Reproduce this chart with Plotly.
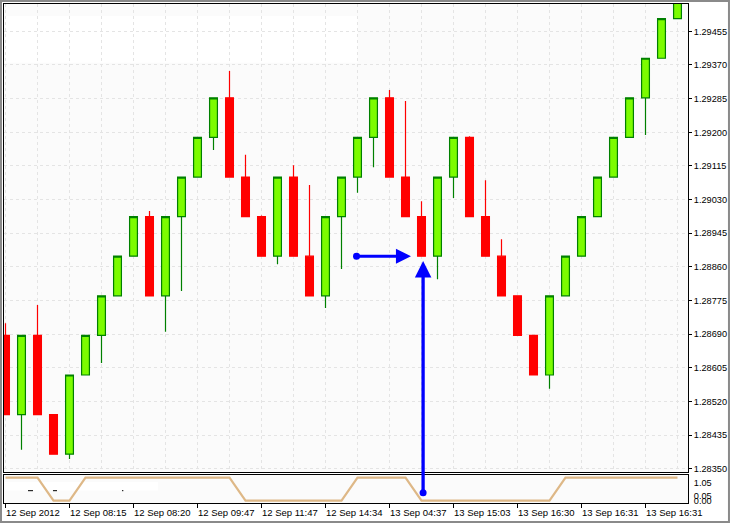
import plotly.graph_objects as go

# ---------------- data ----------------
candle_idx = list(range(43))
opens = [1.28687, 1.28487, 1.28687, 1.28487, 1.28387, 1.28587, 1.28687, 1.28787, 1.28887, 1.28987,
         1.28787, 1.28987, 1.29087, 1.29187, 1.29287, 1.29087, 1.28987, 1.28887, 1.29087, 1.28887,
         1.28787, 1.28987, 1.29087, 1.29187, 1.29287, 1.29087, 1.28987, 1.28887, 1.29087, 1.29187,
         1.28987, 1.28887, 1.28787, 1.28687, 1.28587, 1.28787, 1.28887, 1.28987, 1.29087, 1.29187,
         1.29287, 1.29387, 1.29487]
closes = [1.28487, 1.28687, 1.28487, 1.28387, 1.28587, 1.28687, 1.28787, 1.28887, 1.28987, 1.28787,
          1.28987, 1.29087, 1.29187, 1.29287, 1.29087, 1.28987, 1.28887, 1.29087, 1.28887, 1.28787,
          1.28987, 1.29087, 1.29187, 1.29287, 1.29087, 1.28987, 1.28887, 1.29087, 1.29187, 1.28987,
          1.28887, 1.28787, 1.28687, 1.28587, 1.28787, 1.28887, 1.28987, 1.29087, 1.29187, 1.29287,
          1.29387, 1.29487, 1.29587]
highs = [1.28718, 1.28687, 1.28764, 1.28487, 1.28587, 1.28687, 1.28787, 1.28887, 1.28987, 1.29001,
         1.28987, 1.29087, 1.29187, 1.29287, 1.29355, 1.29143, 1.28990, 1.29087, 1.29117, 1.29067,
         1.28987, 1.29087, 1.29187, 1.29287, 1.29307, 1.29279, 1.29026, 1.29087, 1.29187, 1.29190,
         1.29079, 1.28930, 1.28787, 1.28687, 1.28787, 1.28887, 1.28987, 1.29087, 1.29187, 1.29287,
         1.29387, 1.29487, 1.29587]
lows = [1.28487, 1.28398, 1.28487, 1.28387, 1.28375, 1.28587, 1.28617, 1.28787, 1.28887, 1.28787,
        1.28696, 1.28799, 1.29087, 1.29155, 1.29087, 1.28987, 1.28887, 1.28867, 1.28887, 1.28787,
        1.28756, 1.28855, 1.29047, 1.29112, 1.29087, 1.28987, 1.28887, 1.28829, 1.29034, 1.28987,
        1.28887, 1.28787, 1.28687, 1.28587, 1.28552, 1.28787, 1.28887, 1.28987, 1.29087, 1.29187,
        1.29193, 1.29387, 1.29487]
trend = [1, 1, 1, 0, 0, 1, 1, 1, 1, 1, 1, 1, 1, 1, 1, 0, 0, 0, 0, 0, 0, 0, 1, 1, 1, 1, 0, 0, 0, 0,
         0, 0, 0, 0, 0, 1, 1, 1, 1, 1, 1, 1, 1]

time_tick_idx = [0, 4, 8, 12, 16, 20, 24, 28, 32, 36, 40]
time_labels = ["12 Sep 2012", "12 Sep 08:15", "12 Sep 08:20", "12 Sep 09:47", "12 Sep 11:47",
               "12 Sep 14:34", "13 Sep 04:37", "13 Sep 15:03", "13 Sep 16:30", "13 Sep 16:31",
               "13 Sep 16:31"]
price_ticks = [1.28350, 1.28435, 1.28520, 1.28605, 1.28690, 1.28775, 1.28860, 1.28945,
               1.29030, 1.29115, 1.29200, 1.29285, 1.29370, 1.29455]
ind_tick_vals = [0.78, 0.2, 0.0]
ind_tick_text = ["1.05", "0.05", "0.00"]

# arrows (data coordinates)
h_arrow_tail = (21.94, 1.28887)
h_arrow_head = (25.34, 1.28887)
v_arrow_head = (26.1, 1.28875)
v_arrow_tail_price = 1.28290
v_arrow_tail_ind = 0.35

# ---------------- figure ----------------
FONT = "Liberation Sans"
FS = 9.5
FSY = 9.2
GRID = "#E4E4E4"
BLUE = "#0000FF"

fig = go.Figure()

fig.add_trace(go.Candlestick(
    x=candle_idx, open=opens, high=highs, low=lows, close=closes,
    increasing=dict(line=dict(color="#008000", width=1.2), fillcolor="#7CFC00"),
    decreasing=dict(line=dict(color="#FF0000", width=1.2), fillcolor="#FF0000"),
    whiskerwidth=0, showlegend=False, xaxis="x", yaxis="y", hoverinfo="skip"))

fig.add_trace(go.Scatter(
    x=candle_idx, y=trend, mode="lines",
    line=dict(color="#DEB887", width=2.2), xaxis="x2", yaxis="y2",
    showlegend=False, hoverinfo="skip"))

# arrow tail dots
fig.add_trace(go.Scatter(x=[h_arrow_tail[0]], y=[h_arrow_tail[1]], mode="markers",
                         marker=dict(color=BLUE, size=7), xaxis="x", yaxis="y",
                         showlegend=False, hoverinfo="skip"))
fig.add_trace(go.Scatter(x=[v_arrow_head[0]], y=[v_arrow_tail_ind], mode="markers",
                         marker=dict(color=BLUE, size=7), xaxis="x2", yaxis="y2",
                         showlegend=False, hoverinfo="skip"))

xr = [-0.094, 42.656]

fig.update_layout(
    width=730, height=523,
    margin=dict(l=4, r=42, t=4, b=20, autoexpand=False),
    paper_bgcolor="white", plot_bgcolor="#FBFBFB",
    font=dict(family=FONT, size=FS, color="black"),
    boxgap=0.3,
    xaxis=dict(domain=[0, 1], anchor="y", range=xr, autorange=False, tickmode="linear",
               tick0=0, dtick=2,
               showticklabels=False, ticks="", showgrid=True, gridcolor=GRID, griddash="3px,3px",
               zeroline=False, showline=True, linecolor="black", linewidth=1, mirror=True,
               rangeslider=dict(visible=False)),
    yaxis=dict(domain=[0.06212, 1.0], anchor="x", side="right", range=[1.28342, 1.29524],
               autorange=False,
               tickmode="array", tickvals=price_ticks, ticktext=[f"{v:.5f}" for v in price_ticks],
               ticks="outside", ticklen=3, tickcolor="black", showgrid=True, gridcolor=GRID,
               griddash="3px,3px", zeroline=False, showline=True, linecolor="black",
               linewidth=1, mirror=True, tickfont=dict(family=FONT, size=FSY, color="black")),
    xaxis2=dict(domain=[0, 1], anchor="y2", range=xr, autorange=False, tickmode="array",
                tickvals=time_tick_idx, showticklabels=False,
                ticks="outside", ticklen=4, tickcolor="black",
                showgrid=False, zeroline=False,
                showline=True, linecolor="black", linewidth=1, mirror=True,
                rangeslider=dict(visible=False)),
    yaxis2=dict(domain=[0, 0.05611], anchor="x2", side="right", range=[-0.1, 1.117],
                autorange=False,
                tickmode="array", tickvals=ind_tick_vals, ticktext=ind_tick_text,
                ticks="outside", ticklen=3, tickcolor="rgba(0,0,0,0)",
                showgrid=False, zeroline=False, showline=True, linecolor="black",
                linewidth=1, mirror=True,
                tickfont=dict(family=FONT, size=FSY, color="black")),
)

# x-axis labels, left-aligned on their tick like the original terminal
for xi, lab in zip(time_tick_idx, time_labels):
    fig.add_annotation(x=xi, y=0, xref="x2", yref="paper", text=lab, showarrow=False,
                       xanchor="left", yanchor="top", xshift=-2, yshift=-2,
                       font=dict(family=FONT, size=FS, color="black"))

shapes = [
    # white rectangle in the main panel
    dict(type="rect", xref="paper", yref="paper", x0=0.0015, x1=0.517, y0=0.8822, y1=0.976,
         fillcolor="white", line=dict(width=0), layer="below"),
    # white strip in the indicator panel
    dict(type="rect", xref="paper", yref="paper", x0=0.0015, x1=0.2251, y0=0.025, y1=0.042,
         fillcolor="white", line=dict(width=0), layer="below"),
    dict(type="line", xref="paper", yref="paper", x0=0.0351, x1=0.0424, y0=0.0247, y1=0.0247,
         line=dict(color="black", width=1)),
    dict(type="line", xref="paper", yref="paper", x0=0.0716, x1=0.0775, y0=0.0247, y1=0.0247,
         line=dict(color="black", width=1)),
    dict(type="line", xref="paper", yref="paper", x0=0.1725, x1=0.1745, y0=0.0247, y1=0.0247,
         line=dict(color="black", width=1)),
    # window frame
    dict(type="rect", xref="paper", yref="paper", x0=-0.0044, x1=1.0599, y0=-0.0381, y1=1.006,
         line=dict(color="#8A8A8A", width=2), fillcolor="rgba(0,0,0,0)", layer="above"),
]
fig.update_layout(shapes=shapes)

fig.add_annotation(x=h_arrow_head[0], y=h_arrow_head[1], ax=h_arrow_tail[0], ay=h_arrow_tail[1],
                   xref="x", yref="y", axref="x", ayref="y", text="", showarrow=True,
                   arrowhead=2, arrowsize=1, arrowwidth=3, arrowcolor=BLUE, standoff=0)
fig.add_annotation(x=v_arrow_head[0], y=v_arrow_head[1], ax=v_arrow_head[0], ay=v_arrow_tail_price,
                   xref="x", yref="y", axref="x", ayref="y", text="", showarrow=True,
                   arrowhead=2, arrowsize=1, arrowwidth=3.3, arrowcolor=BLUE, standoff=0)

fig.write_html("out.html", config={"displayModeBar": False},
               post_script="document.body.style.margin='0';")
